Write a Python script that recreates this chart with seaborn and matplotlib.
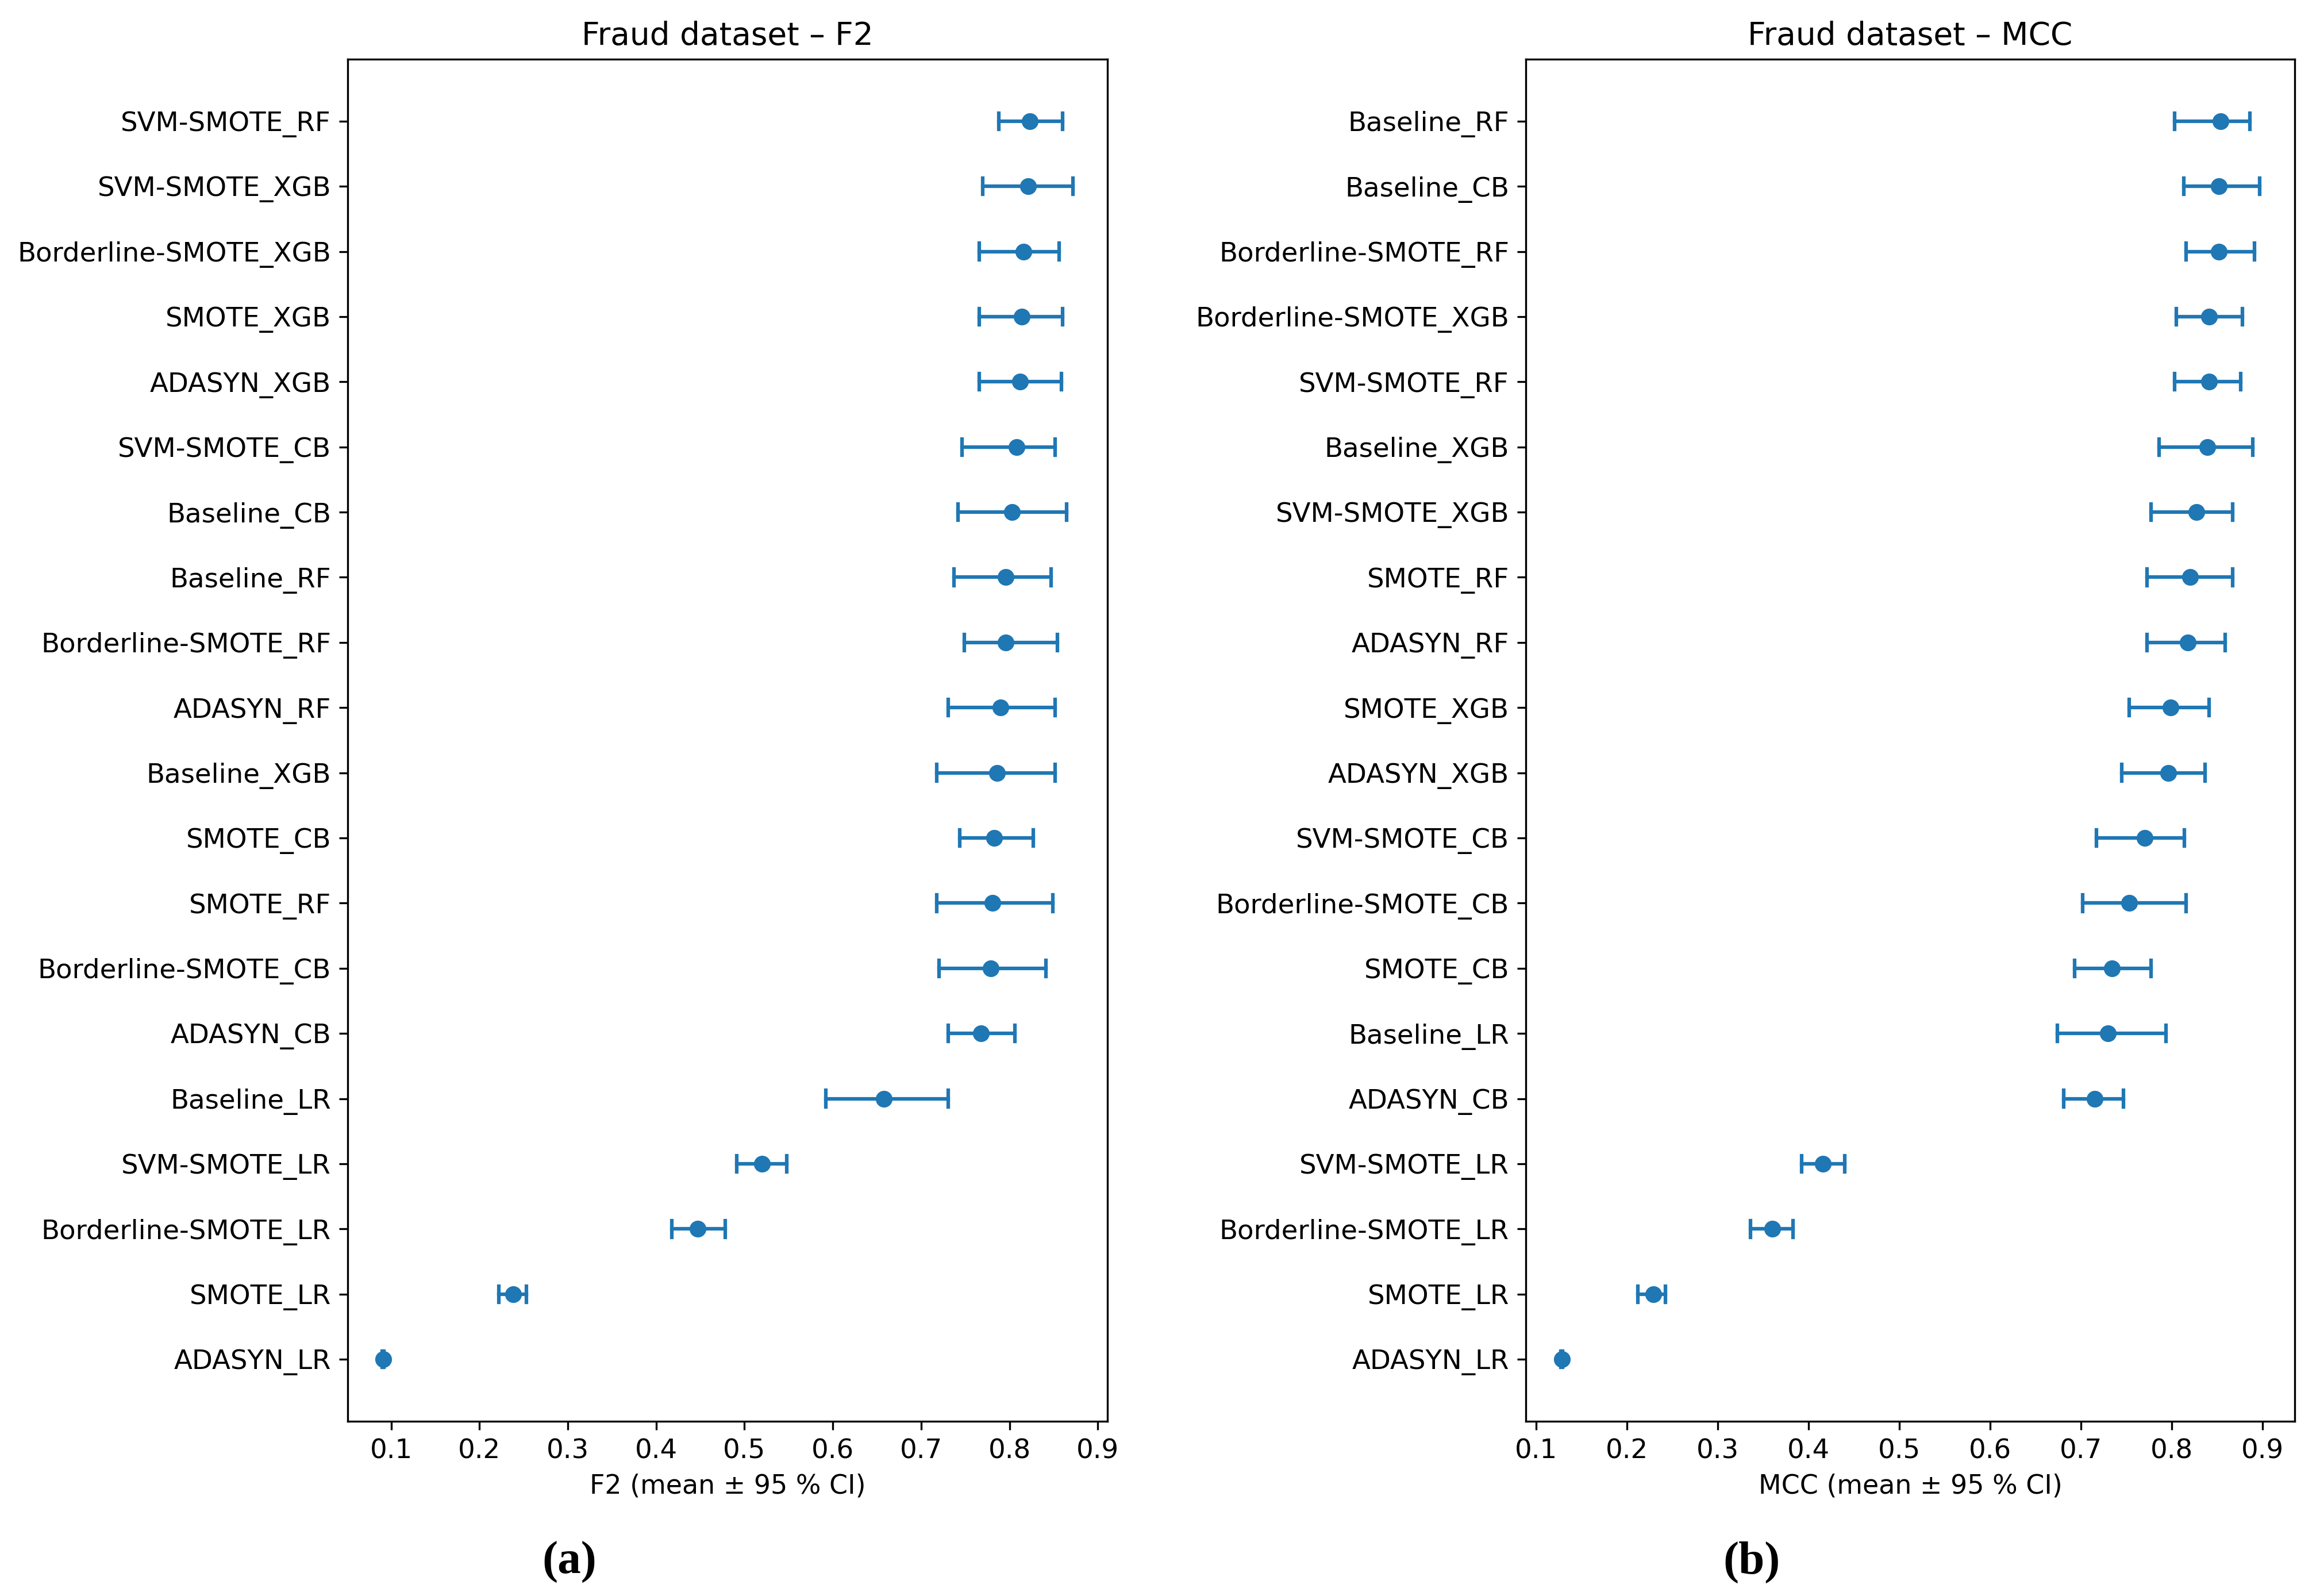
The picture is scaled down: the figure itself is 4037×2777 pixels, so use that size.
import numpy as np
import pandas as pd
import matplotlib
matplotlib.use("Agg")
import matplotlib.pyplot as plt
from matplotlib.ticker import MultipleLocator
import seaborn as sns

# F2 panel (sorted as in the figure, top to bottom)
f2_models = ["SVM-SMOTE_RF", "SVM-SMOTE_XGB", "Borderline-SMOTE_XGB", "SMOTE_XGB",
             "ADASYN_XGB", "SVM-SMOTE_CB", "Baseline_CB", "Baseline_RF",
             "Borderline-SMOTE_RF", "ADASYN_RF", "Baseline_XGB", "SMOTE_CB",
             "SMOTE_RF", "Borderline-SMOTE_CB", "ADASYN_CB", "Baseline_LR",
             "SVM-SMOTE_LR", "Borderline-SMOTE_LR", "SMOTE_LR", "ADASYN_LR"]
f2_mean = [0.823, 0.821, 0.816, 0.814, 0.812, 0.808, 0.803, 0.796, 0.796, 0.790,
           0.786, 0.783, 0.781, 0.779, 0.768, 0.658, 0.520, 0.447, 0.238, 0.091]
f2_low = [0.788, 0.770, 0.766, 0.766, 0.766, 0.746, 0.742, 0.737, 0.749, 0.731,
          0.718, 0.744, 0.718, 0.720, 0.731, 0.592, 0.491, 0.418, 0.222, 0.090]
f2_high = [0.860, 0.872, 0.856, 0.860, 0.859, 0.852, 0.865, 0.847, 0.854, 0.852,
           0.852, 0.827, 0.849, 0.841, 0.806, 0.731, 0.548, 0.478, 0.253, 0.092]

# MCC panel
mcc_models = ["Baseline_RF", "Baseline_CB", "Borderline-SMOTE_RF", "Borderline-SMOTE_XGB",
              "SVM-SMOTE_RF", "Baseline_XGB", "SVM-SMOTE_XGB", "SMOTE_RF",
              "ADASYN_RF", "SMOTE_XGB", "ADASYN_XGB", "SVM-SMOTE_CB",
              "Borderline-SMOTE_CB", "SMOTE_CB", "Baseline_LR", "ADASYN_CB",
              "SVM-SMOTE_LR", "Borderline-SMOTE_LR", "SMOTE_LR", "ADASYN_LR"]
mcc_mean = [0.854, 0.852, 0.852, 0.841, 0.841, 0.839, 0.827, 0.820, 0.818, 0.799,
            0.796, 0.770, 0.753, 0.734, 0.730, 0.715, 0.416, 0.360, 0.229, 0.128]
mcc_low = [0.803, 0.813, 0.816, 0.805, 0.803, 0.786, 0.777, 0.773, 0.773, 0.753,
           0.745, 0.717, 0.702, 0.693, 0.674, 0.681, 0.392, 0.336, 0.212, 0.127]
mcc_high = [0.886, 0.897, 0.891, 0.878, 0.876, 0.889, 0.867, 0.867, 0.859, 0.841,
            0.837, 0.814, 0.816, 0.777, 0.794, 0.747, 0.440, 0.383, 0.242, 0.129]

plt.rcParams["font.size"] = 11.2
BLUE = "#1f77b4"


def long_table(models, low, mean, high):
    # three rows per model: the median of them is the mean, min/max is the CI
    rows = []
    for m, lo, me, hi in zip(models, low, mean, high):
        for v in (lo, me, hi):
            rows.append({"model": m, "value": v})
    return pd.DataFrame(rows)


def draw_panel(ax, models, low, mean, high, title, xlabel):
    df = long_table(models, low, mean, high)
    sns.pointplot(
        data=df, x="value", y="model", order=models, ax=ax,
        estimator=np.median, errorbar=lambda v: (v.min(), v.max()),
        color=BLUE, marker="o", linestyle="none", capsize=0.25,
        markersize=6.5, markeredgewidth=0.5, err_kws={"linewidth": 1.5},
    )
    n = len(models)
    ax.set_ylim(n - 1 + 0.95, -0.95)
    ax.xaxis.set_major_locator(MultipleLocator(0.1))
    ax.set_title(title, fontsize=13.2)
    ax.set_xlabel(xlabel, fontsize=11)
    ax.set_ylabel("")
    for s in ax.spines.values():
        s.set_visible(True)


fig, axes = plt.subplots(1, 2, figsize=(4037 / 300, 2777 / 300), dpi=300)

draw_panel(axes[0], f2_models, f2_low, f2_mean, f2_high,
           "Fraud dataset – F2", "F2 (mean ± 95 % CI)")
draw_panel(axes[1], mcc_models, mcc_low, mcc_mean, mcc_high,
           "Fraud dataset – MCC", "MCC (mean ± 95 % CI)")

axes[0].set_position([0.1499, 0.1095, 0.3275, 0.8534])
axes[1].set_position([0.6577, 0.1095, 0.3314, 0.8534])

fig.text(0.2455, 0.021, "(a)", ha="center", va="center", fontsize=19.5,
         fontweight="bold", family="Liberation Serif")
fig.text(0.755, 0.021, "(b)", ha="center", va="center", fontsize=19.5,
         fontweight="bold", family="Liberation Serif")

fig.savefig("out.png", dpi=300)
plt.close(fig)
